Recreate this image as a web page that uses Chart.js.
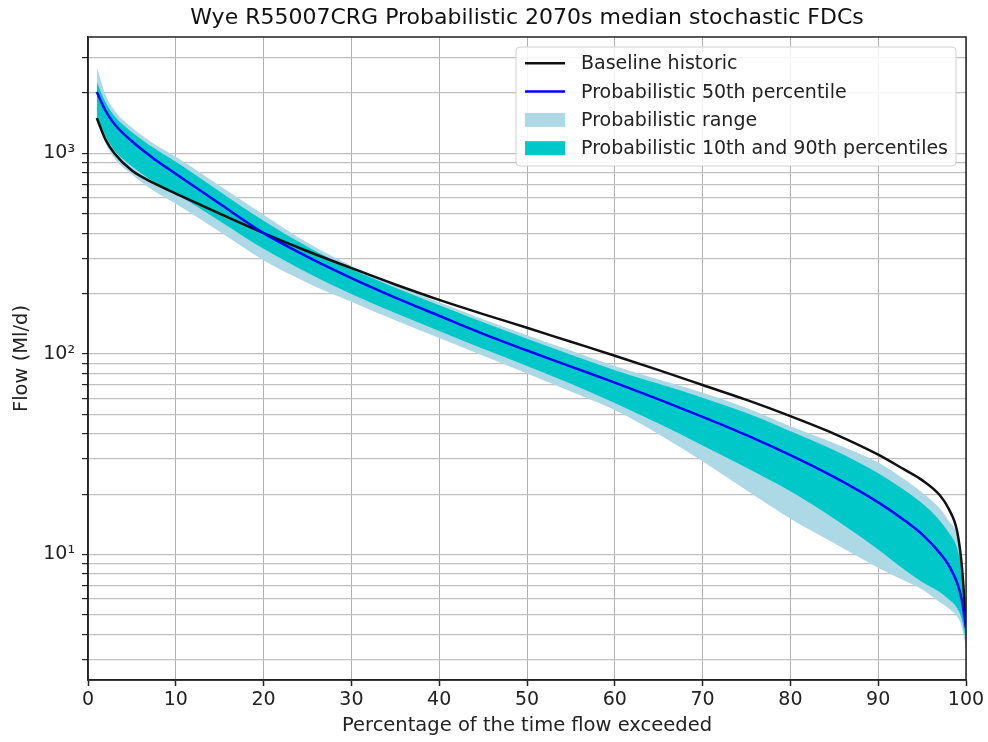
<!DOCTYPE html>
<html>
<head>
<meta charset="utf-8">
<title>Wye R55007CRG Probabilistic 2070s median stochastic FDCs</title>
<script src="https://cdn.jsdelivr.net/npm/chart.js@4.4.1/dist/chart.umd.min.js"></script>
<style>
  html, body { margin: 0; padding: 0; background: #fff; }
  #wrap { width: 988px; height: 742px; }
</style>
</head>
<body>
<div id="wrap"><canvas id="fdcChart" width="988" height="742"></canvas></div>
<script>
// % of time flow exceeded
const exceedance = [1, 2, 3, 5, 7.5, 10, 15, 20, 25, 30, 35, 40, 45, 50, 55, 60, 65, 70, 75, 80, 85, 90, 93, 95, 97, 98, 99, 99.5, 100];

// flows in Ml/d
const baselineHistoric = [1500, 1170, 1000, 820, 710, 630, 500, 400, 325, 268, 222, 186, 158, 135, 115, 98, 83, 70, 59, 49, 40, 31.5, 26.5, 23.5, 19.8, 17, 13, 9, 4.6];
const prob50 = [2020, 1630, 1400, 1148, 940, 790, 560, 400, 305, 239, 191, 155, 126, 104, 86.5, 72, 59.4, 48.6, 39.4, 31.3, 24.3, 18.2, 14.8, 12.6, 10.2, 8.9, 7.2, 6.0, 4.3];
const prob90 = [2265, 1795, 1538, 1274, 1062, 908, 646, 461, 342, 265, 214, 175, 144, 119, 99, 83, 71, 60.5, 50.7, 41.2, 33.1, 25.4, 20.9, 18, 14.8, 12.9, 10.7, 8.3, 4.6];
const prob10 = [1531, 1222, 1035, 861, 721, 628, 460, 334, 254, 199, 160, 130, 106, 87, 71, 57, 45, 35, 27.1, 20.7, 15.1, 10.6, 8.4, 7.3, 6.5, 6.0, 5.4, 4.8, 3.7];
const rangeMax = [2692, 1959, 1641, 1343, 1117, 962, 689, 494, 358, 275, 220, 181, 149, 124, 104, 87, 74.5, 64, 53.7, 43.6, 35.9, 28.8, 23.7, 20.4, 17, 14.8, 12.4, 8.9, 4.7];
const rangeMin = [1429, 1127, 944, 785, 650, 560, 406, 293, 226, 182, 147, 120, 98, 80, 65, 52.5, 39.8, 29.2, 20.9, 15.1, 11.4, 8.6, 7.4, 6.7, 5.8, 5.4, 4.9, 4.4, 3.4];

const xTicks = [0, 10, 20, 30, 40, 50, 60, 70, 80, 90, 100];
const yDecades = [1, 10, 100, 1000];
const yTickLabels = { 10: '10¹', 100: '10²', 1000: '10³' };
const yMin = 2.37, yMax = 3800;

const FONT = 'DejaVu Sans';
Chart.defaults.font.family = FONT;

const pts = (arr) => exceedance.map((x, i) => ({ x: x, y: arr[i] }));

// grid positions: 1..9 x each decade inside the axis range
const yGrid = [];
yDecades.forEach(d => {
	for (let m = 1; m <= 9; m++) {
		const v = Math.round(m * d * 100) / 100;
		if (v > yMin && v < yMax) yGrid.push(v);
	}
});

const framePlugin = {
	id: 'frame',
	afterDatasetsDraw(chart) {
		const { ctx, chartArea: a } = chart;
		ctx.save();
		ctx.strokeStyle = '#222';
		ctx.lineWidth = 1.5;
		ctx.strokeRect(a.left, a.top, a.right - a.left, a.bottom - a.top);
		ctx.restore();
	}
};

const insideLegend = {
	id: 'insideLegend',
	afterDraw(chart) {
		const { ctx, chartArea: a } = chart;
		const items = chart.data.datasets.filter(d => d.legendKind)
			.sort((p, q) => p.legendRank - q.legendRank);
		ctx.save();
		ctx.font = '19px "' + FONT + '"';
		let maxW = 0;
		items.forEach(d => { maxW = Math.max(maxW, ctx.measureText(d.label).width); });
		const w = 65 + maxW + 8;
		const h = 119;
		const right = a.right - 10;
		const left = right - w;
		const top = a.top + 10;

		ctx.beginPath();
		ctx.roundRect(left, top, w, h, 4);
		ctx.fillStyle = 'rgba(255,255,255,0.85)';
		ctx.fill();
		ctx.strokeStyle = '#d0d0d0';
		ctx.lineWidth = 1;
		ctx.stroke();

		items.forEach((d, i) => {
			const cy = top + 16.3 + i * 28.3;
			if (d.legendKind === 'line') {
				ctx.strokeStyle = d.borderColor;
				ctx.lineWidth = 2.5;
				ctx.beginPath();
				ctx.moveTo(left + 9, cy);
				ctx.lineTo(left + 49, cy);
				ctx.stroke();
			} else {
				ctx.fillStyle = d.backgroundColor;
				ctx.fillRect(left + 9, cy - 7, 40, 14);
			}
			ctx.fillStyle = '#222';
			ctx.textBaseline = 'middle';
			ctx.textAlign = 'left';
			ctx.fillText(d.label, left + 65, cy + 1);
		});
		ctx.restore();
	}
};

const bandStyle = { borderWidth: 0, pointRadius: 0, cubicInterpolationMode: 'monotone' };

new Chart(document.getElementById('fdcChart'), {
	type: 'line',
	data: {
		datasets: [
			Object.assign({ label: 'range min', data: pts(rangeMin), fill: false, order: 6, borderColor: '#add8e6' }, bandStyle),
			Object.assign({ label: 'Probabilistic range', data: pts(rangeMax), fill: '-1', order: 5,
				legendKind: 'box', legendRank: 3, borderColor: '#add8e6', backgroundColor: '#add8e6' }, bandStyle),
			Object.assign({ label: 'p10', data: pts(prob10), fill: false, order: 4, borderColor: '#00c8c8' }, bandStyle),
			Object.assign({ label: 'Probabilistic 10th and 90th percentiles', data: pts(prob90), fill: '-1', order: 3,
				legendKind: 'box', legendRank: 4, borderColor: '#00c8c8', backgroundColor: '#00c8c8' }, bandStyle),
			{ label: 'Baseline historic', data: pts(baselineHistoric), order: 2, legendKind: 'line', legendRank: 1,
				borderColor: '#111111', borderWidth: 2.5, pointRadius: 0, fill: false, cubicInterpolationMode: 'monotone' },
			{ label: 'Probabilistic 50th percentile', data: pts(prob50), order: 1, legendKind: 'line', legendRank: 2,
				borderColor: '#0000ff', borderWidth: 2.5, pointRadius: 0, fill: false, cubicInterpolationMode: 'monotone' }
		]
	},
	options: {
		responsive: false,
		animation: false,
		events: [],
		layout: { padding: { left: 0, right: 22, top: 0, bottom: 0 } },
		plugins: {
			legend: { display: false },
			tooltip: { enabled: false },
			title: {
				display: true,
				fullSize: false,
				text: 'Wye R55007CRG Probabilistic 2070s median stochastic FDCs',
				color: '#111',
				font: { size: 22, weight: 'normal' },
				padding: { top: 5, bottom: 5.6 }
			}
		},
		scales: {
			x: {
				type: 'linear',
				min: 0,
				max: 100,
				afterFit(s) { s.height = 62; },
				afterBuildTicks(s) { s.ticks = xTicks.map(v => ({ value: v })); },
				ticks: { color: '#222', font: { size: 19 }, padding: 3, maxRotation: 0 },
				grid: { color: '#b0b0b0', lineWidth: 1, tickLength: 6, tickColor: '#222', tickWidth: 1.5 },
				border: { color: '#222', width: 1.5 },
				title: { display: true, text: 'Percentage of the time flow exceeded', color: '#222',
					font: { size: 19.5 }, padding: { top: 0, bottom: 4 } }
			},
			y: {
				type: 'logarithmic',
				min: yMin,
				max: yMax,
				afterFit(s) { s.width = 88; },
				afterBuildTicks(s) { s.ticks = yGrid.map(v => ({ value: v })); },
				ticks: {
					autoSkip: false,
					color: '#222',
					font: { size: 19 },
					padding: 7,
					callback: (v) => yTickLabels[Math.round(v)] || ''
				},
				grid: { color: '#c0c0c0', lineWidth: 1.2, tickLength: 6, tickColor: '#222', tickWidth: 1.2 },
				border: { color: '#222', width: 1.5 },
				title: { display: true, text: 'Flow (Ml/d)', color: '#222',
					font: { size: 19.5 }, padding: { top: 10, bottom: 0 } }
			}
		}
	},
	plugins: [framePlugin, insideLegend]
});
</script>
</body>
</html>
